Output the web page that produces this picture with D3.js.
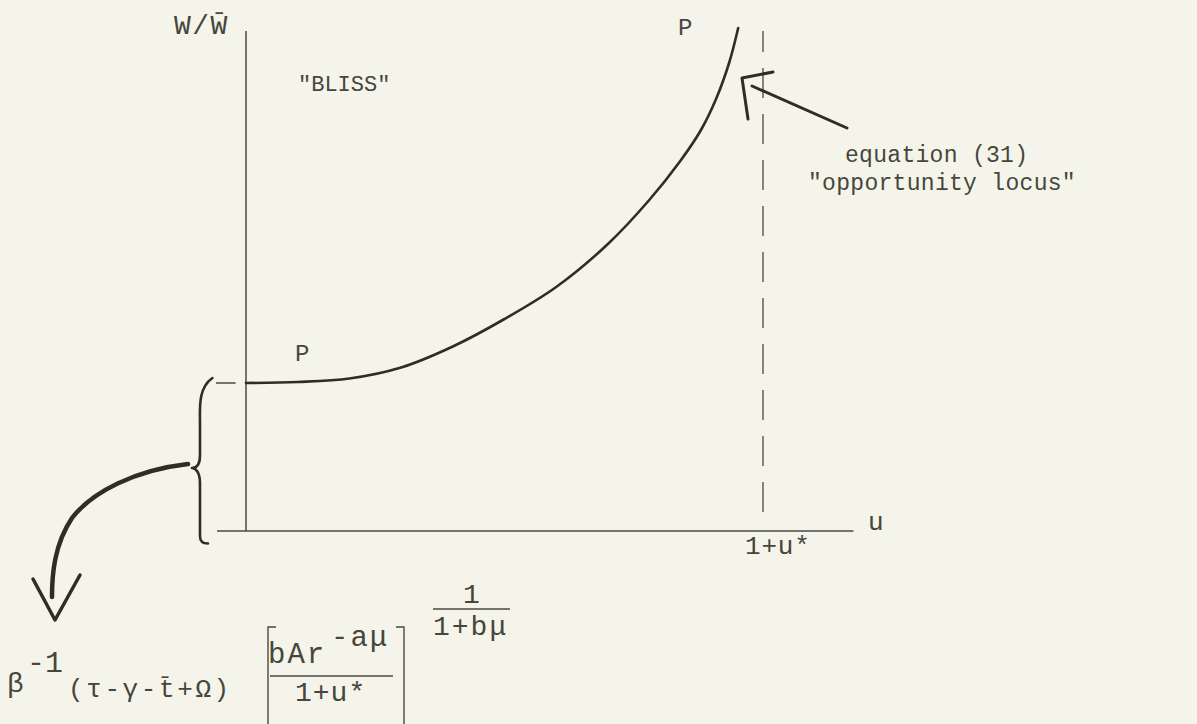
<!DOCTYPE html>
<html><head><meta charset="utf-8">
<script src="https://cdn.jsdelivr.net/npm/d3@7/dist/d3.min.js"></script>
<style>
html,body{margin:0;padding:0;background:#f4f4ea;}
svg{display:block;}
text{font-family:"Liberation Mono","Courier New",monospace;fill:#46463c;}
</style></head>
<body>
<script>
// Opportunity locus (equation 31): u vs W/W̄ (arbitrary units, asymptote at u = 1+u* = 100)
const locusU = [0, 10, 20, 30, 40, 50, 60, 70, 78, 84, 88, 91, 93.5, 95.2];
const locusW = [29.6, 29.8, 30.5, 32.7, 36.9, 42.4, 48.8, 57.4, 66.2, 74.0, 80.2, 86.6, 93.8, 100.6];
const asymptoteU = 100;        // 1+u*
const interceptW = 29.6;       // β^-1(...)[...]^(1/(1+bμ))
const axisLabels = {x: "u", y: "W/W̄", asym: "1+u*"};

const W = 1197, H = 724;
const svg = d3.select("body").append("svg").attr("width", W).attr("height", H);

const x = d3.scaleLinear().domain([0, 100]).range([246, 763]);
const y = d3.scaleLinear().domain([0, 100]).range([531, 31]);

const ink = "#2e2e26", axisInk = "#4a4a42";

// axes
svg.append("line").attr("x1", x(0)).attr("x2", x(0)).attr("y1", y(0)).attr("y2", y(100))
  .attr("stroke", axisInk).attr("stroke-width", 1.5);
svg.append("line").attr("x1", x(-5.6)).attr("x2", x(117.5)).attr("y1", y(0)).attr("y2", y(0))
  .attr("stroke", axisInk).attr("stroke-width", 1.5);

// asymptote (dashed)
svg.append("line").attr("x1", x(asymptoteU)).attr("x2", x(asymptoteU)).attr("y1", y(3.8)).attr("y2", y(100))
  .attr("stroke", axisInk).attr("stroke-width", 1.3).attr("stroke-dasharray", "30,16");

// intercept tick
svg.append("line").attr("x1", x(-5.8)).attr("x2", x(-2)).attr("y1", y(interceptW)).attr("y2", y(interceptW))
  .attr("stroke", axisInk).attr("stroke-width", 1.5);

// curve
const pts = locusU.map((u, i) => [u, locusW[i]]);
svg.append("path").datum(pts)
  .attr("d", d3.line().x(d => x(d[0])).y(d => y(d[1])).curve(d3.curveCatmullRom.alpha(0.5)))
  .attr("fill", "none").attr("stroke", ink).attr("stroke-width", 2.6).attr("stroke-linecap", "round");

// brace
const bx = x(-8.9);
const brace = d3.path();
brace.moveTo(x(-6.5), y(interceptW + 1));
brace.bezierCurveTo(bx - 2, y(interceptW - 1), bx, y(interceptW - 5), bx, y(interceptW - 8));
brace.lineTo(bx, y(interceptW - 14.5));
brace.bezierCurveTo(bx, y(interceptW - 16.5), bx - 4, y(interceptW - 17), bx - 8, y(interceptW - 17));
brace.moveTo(bx - 8, y(interceptW - 17));
brace.bezierCurveTo(bx - 4, y(interceptW - 17), bx, y(interceptW - 18), bx, y(interceptW - 20));
brace.lineTo(bx, y(-1));
brace.bezierCurveTo(bx, y(-2.2), bx + 3, y(-2.5), bx + 8, y(-2.5));
svg.append("path").attr("d", brace.toString()).attr("fill", "none")
  .attr("stroke", ink).attr("stroke-width", 2.6).attr("stroke-linecap", "round");

// thick arrow from brace to expression
const arr = d3.path();
arr.moveTo(188, 464);
arr.bezierCurveTo(135, 470, 92, 492, 72, 518);
arr.bezierCurveTo(54, 545, 52, 575, 52, 597);
svg.append("path").attr("d", arr.toString()).attr("fill", "none")
  .attr("stroke", ink).attr("stroke-width", 4.5).attr("stroke-linecap", "round");
svg.append("path").attr("d", "M33,579 L55,620 L80,575").attr("fill", "none")
  .attr("stroke", ink).attr("stroke-width", 3.5).attr("stroke-linecap", "round").attr("stroke-linejoin", "round");

// pointer arrow to locus
svg.append("path").attr("d", "M752,86 L847,128").attr("fill", "none")
  .attr("stroke", ink).attr("stroke-width", 3).attr("stroke-linecap", "round");
svg.append("path").attr("d", "M773,72 L742,78 L748,119").attr("fill", "none")
  .attr("stroke", ink).attr("stroke-width", 3).attr("stroke-linecap", "round").attr("stroke-linejoin", "round");

// labels
function txt(s, X, Y, size, ls, anchor) {
  return svg.append("text").attr("x", X).attr("y", Y).attr("font-size", size)
    .attr("letter-spacing", ls).attr("text-anchor", anchor || "start").text(s);
}
txt(axisLabels.y, 174, 34, 28, 1.5);
txt('"BLISS"', 298, 91, 22, 0);
txt("P", 678, 35, 24, 0);
txt("P", 295, 361, 24, 0);
txt("equation (31)", 845, 162, 23, 0.3);
txt('"opportunity locus"', 808, 190, 23, 0.3);
txt(axisLabels.x, 868, 530, 26, 0);
txt(axisLabels.asym, 745, 554, 26, 0.8);

// expression
const e1 = svg.append("text").attr("x", 7).attr("y", 692).attr("font-size", 28);
e1.append("tspan").text("β");
e1.append("tspan").attr("x", 27).attr("dy", -20).attr("font-size", 30).text("-1");
e1.append("tspan").attr("x", 68).attr("dy", 25).attr("font-size", 26).attr("letter-spacing", 2.6).text("(τ-γ-t̄+Ω)");

// bracket
svg.append("path").attr("d", "M276,627 L268,627 L268,730").attr("fill", "none").attr("stroke", axisInk).attr("stroke-width", 1.4);
svg.append("path").attr("d", "M396,627 L404,627 L404,730").attr("fill", "none").attr("stroke", axisInk).attr("stroke-width", 1.4);
const num = svg.append("text").attr("x", 268).attr("y", 663).attr("font-size", 29).attr("letter-spacing", 2);
num.append("tspan").text("bAr");
num.append("tspan").attr("x", 331).attr("dy", -17).text("-aμ");
svg.append("line").attr("x1", 270).attr("x2", 393).attr("y1", 676).attr("y2", 676).attr("stroke", axisInk).attr("stroke-width", 1.4);
txt("1+u*", 295, 701, 28, 1);
txt("1", 463, 603, 28, 0);
svg.append("line").attr("x1", 433).attr("x2", 510).attr("y1", 609).attr("y2", 609).attr("stroke", axisInk).attr("stroke-width", 1.4);
txt("1+bμ", 433, 635, 28, 2);
</script>
</body></html>
